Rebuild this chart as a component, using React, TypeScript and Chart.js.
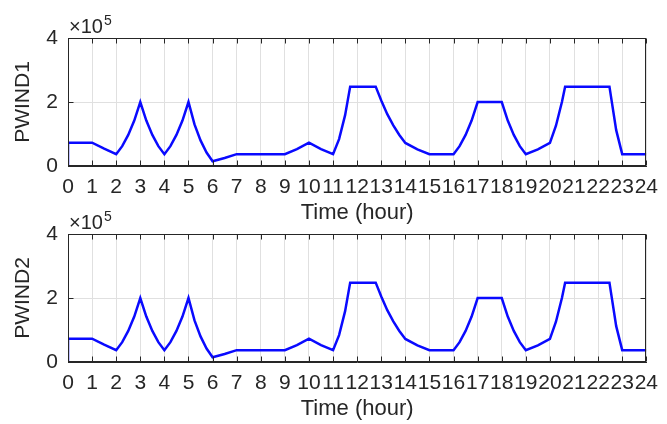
import React, { useEffect, useRef } from "react";
import { Chart, registerables } from "chart.js";

Chart.register(...registerables);

// Time (hour) of each sample
const hours = [
  0, 0, 1, 1.5, 2, 2.25, 2.5, 2.75, 3, 3.25, 3.5, 3.75, 4, 4.25, 4.5, 4.75, 5,
  5.25, 5.5, 5.75, 6, 6.5, 7, 9, 9.5, 10, 10.5, 11, 11.25, 11.5, 11.71, 12.77,
  13, 13.25, 13.5, 13.75, 14, 14.5, 15, 16, 16.25, 16.5, 16.75, 17, 18, 18.25,
  18.5, 18.75, 19, 19.5, 20, 20.25, 20.5, 20.63, 22.47, 22.75, 23, 24,
];

// Wind power, subplot 1
const pwind1 = [
  0, 73000, 73000, 54000, 37000, 62000, 97000, 142000, 200000, 142000, 97000,
  62000, 37000, 62000, 97000, 142000, 200000, 130000, 80000, 42000, 15000,
  25000, 37000, 37000, 53000, 73000, 53000, 37000, 84000, 159000, 248000,
  248000, 205000, 162000, 127000, 97000, 72000, 52000, 37000, 37000, 62000,
  97000, 142000, 200000, 200000, 142000, 97000, 62000, 37000, 52000, 72000,
  126000, 201000, 248000, 248000, 112000, 37000, 37000,
];

// Wind power, subplot 2
const pwind2 = [
  0, 73000, 73000, 54000, 37000, 62000, 97000, 142000, 200000, 142000, 97000,
  62000, 37000, 62000, 97000, 142000, 200000, 130000, 80000, 42000, 15000,
  25000, 37000, 37000, 53000, 73000, 53000, 37000, 84000, 159000, 248000,
  248000, 205000, 162000, 127000, 97000, 72000, 52000, 37000, 37000, 62000,
  97000, 142000, 200000, 200000, 142000, 97000, 62000, 37000, 52000, 72000,
  126000, 201000, 248000, 248000, 112000, 37000, 37000,
];

const xMin = 0;
const xMax = 24;
const yTicks = [0, 200000, 400000];
const xTitle = "Time (hour)";
const exponentBase = "×10";
const exponent = "5";

const FONT = '"Liberation Sans", Arial, Helvetica, sans-serif';
const AXIS = "#262626";
const GRID = "#e0e0e0";

const framePlugin = {
  id: "frame",
  afterDraw(chart: any) {
    const { ctx, chartArea, scales } = chart;
    const { left, right, top, bottom } = chartArea;
    const L = Math.round(left) + 0.5;
    const R = Math.round(right) - 0.5;
    const T = Math.round(top) + 0.5;
    const B = Math.round(bottom) - 0.5;
    ctx.save();
    ctx.strokeStyle = AXIS;
    ctx.lineWidth = 1;
    ctx.strokeRect(L, T, R - L, B - T);
    ctx.beginPath();
    for (let h = xMin; h <= xMax; h++) {
      const x = Math.round(scales.x.getPixelForValue(h)) + 0.5;
      ctx.moveTo(x, B);
      ctx.lineTo(x, B - 5);
      ctx.moveTo(x, T);
      ctx.lineTo(x, T + 5);
    }
    for (const v of yTicks) {
      const y = Math.round(scales.y.getPixelForValue(v)) + 0.5;
      ctx.moveTo(L, y);
      ctx.lineTo(L + 5, y);
      ctx.moveTo(R, y);
      ctx.lineTo(R - 5, y);
    }
    ctx.stroke();
    // exponent label
    ctx.fillStyle = AXIS;
    ctx.textBaseline = "alphabetic";
    ctx.textAlign = "left";
    ctx.font = `20px ${FONT}`;
    ctx.fillText(exponentBase, left + 1, top - 5);
    const w = ctx.measureText(exponentBase).width;
    ctx.font = `14px ${FONT}`;
    ctx.fillText(exponent, left + 2 + w, top - 13);
    ctx.restore();
  },
};

function SubPlot({ values, label, top }: { values: number[]; label: string; top: number }) {
  const ref = useRef<HTMLCanvasElement | null>(null);
  useEffect(() => {
    if (!ref.current) return;
    const data = hours.map((h, i) => ({ x: h, y: values[i] }));
    const chart = new Chart(ref.current, {
      type: "line",
      data: {
        datasets: [
          {
            data,
            borderColor: "#0a0aff",
            borderWidth: 2.5,
            pointRadius: 0,
            tension: 0,
            fill: false,
          },
        ],
      },
      options: {
        animation: false,
        responsive: false,
        devicePixelRatio: 1,
        events: [],
        layout: { padding: { top: 38, right: 10, left: 0, bottom: 0 } },
        plugins: { legend: { display: false }, tooltip: { enabled: false } },
        scales: {
          x: {
            type: "linear",
            min: xMin,
            max: xMax,
            afterFit: (s: any) => {
              s.height = 62;
            },
            grid: { color: GRID, drawTicks: false },
            border: { display: true, color: AXIS },
            ticks: {
              stepSize: 1,
              autoSkip: false,
              maxRotation: 0,
              minRotation: 0,
              padding: 9,
              color: AXIS,
              font: { family: FONT, size: 21 },
            },
            title: {
              display: true,
              text: xTitle,
              color: AXIS,
              padding: { top: 0, bottom: 2 },
              font: { family: FONT, size: 22 },
            },
          },
          y: {
            min: 0,
            max: 400000,
            afterFit: (s: any) => {
              s.width = 68;
            },
            afterBuildTicks: (s: any) => {
              s.ticks = yTicks.map((v) => ({ value: v }));
            },
            grid: { color: GRID, drawTicks: false },
            border: { display: true, color: AXIS },
            ticks: {
              padding: 10,
              color: AXIS,
              font: { family: FONT, size: 21 },
              callback: (v: any) => String(Number(v) / 100000),
            },
            title: {
              display: true,
              text: label,
              color: AXIS,
              padding: { top: 11, bottom: 0 },
              font: { family: FONT, size: 21 },
            },
          },
        },
      },
      plugins: [framePlugin],
    });
    return () => chart.destroy();
  }, [values, label]);
  return (
    <div style={{ position: "absolute", left: 0, top, width: 667, height: 228 }}>
      <canvas ref={ref} width={667} height={228} />
    </div>
  );
}

export default function App() {
  return (
    <div style={{ position: "absolute", left: 0, top: 0, width: 667, height: 424, background: "#fff" }}>
      <SubPlot values={pwind1} label="PWIND1" top={0} />
      <SubPlot values={pwind2} label="PWIND2" top={196} />
    </div>
  );
}
